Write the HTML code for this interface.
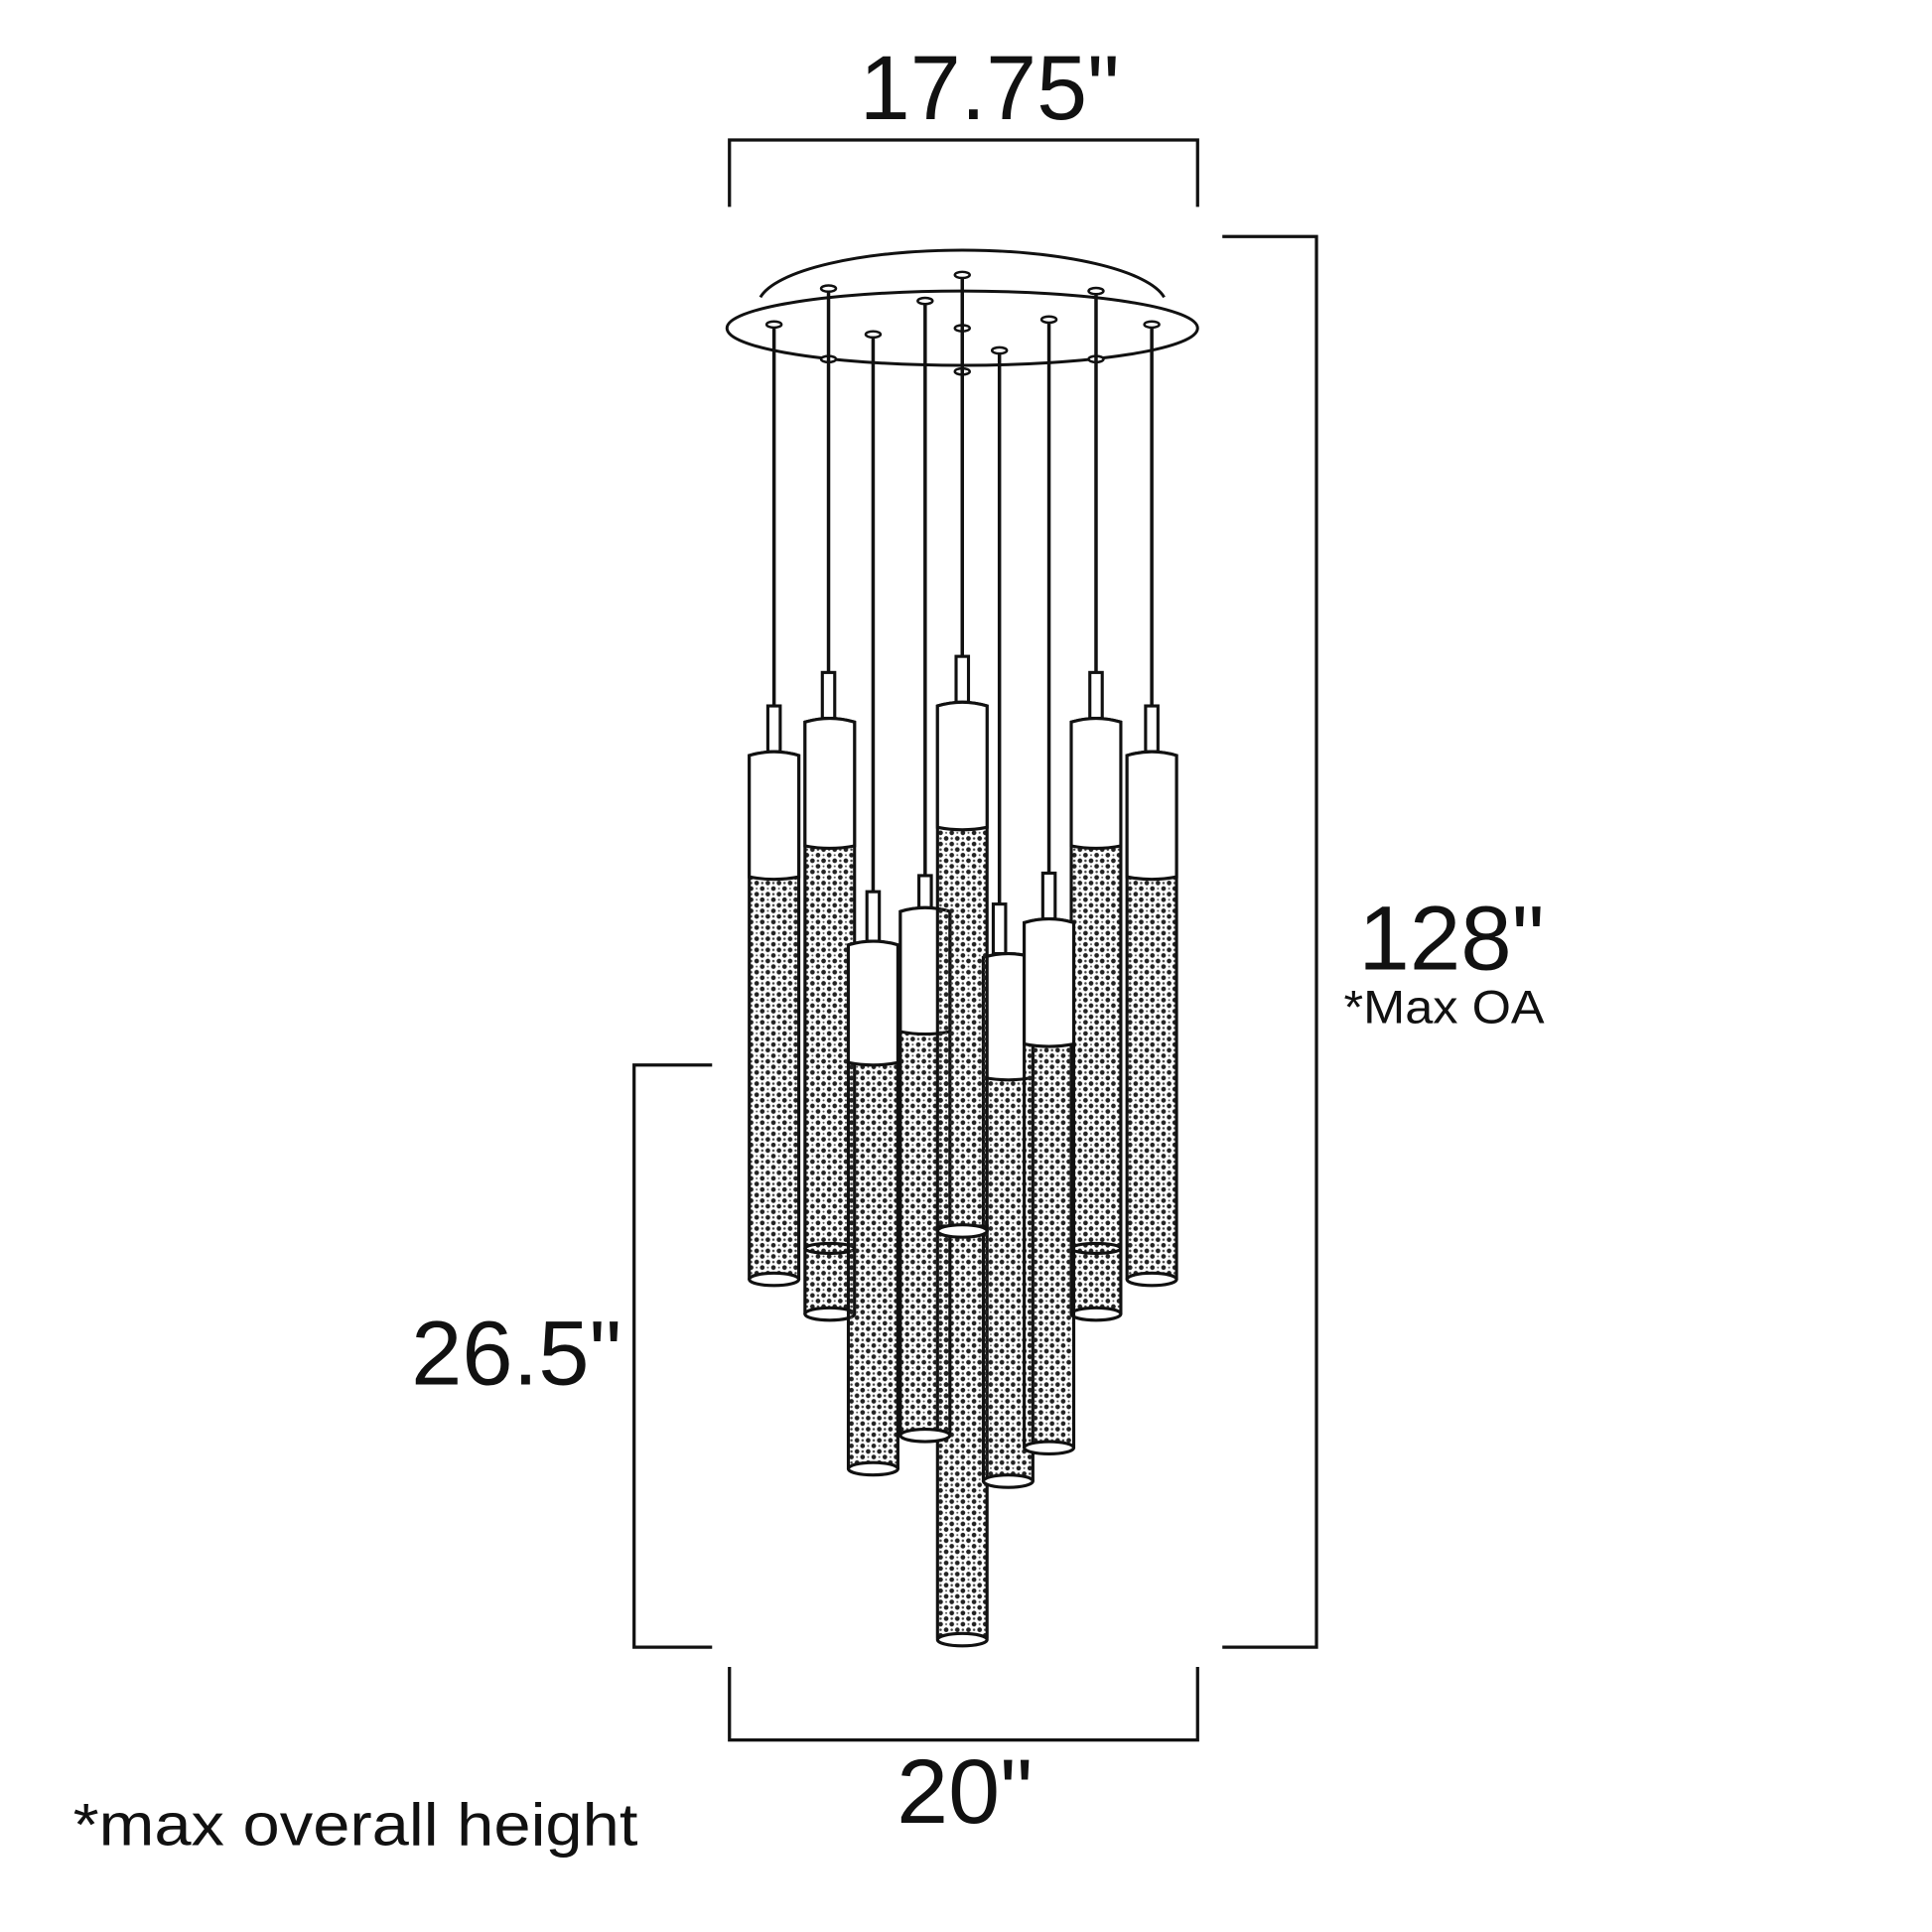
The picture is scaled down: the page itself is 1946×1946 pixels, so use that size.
<!DOCTYPE html>
<html><head><meta charset="utf-8"><style>
html,body{margin:0;padding:0;background:#fff;}
svg{display:block;}
text{font-family:"Liberation Sans",sans-serif;fill:#111;}
</style></head><body>
<svg width="1946" height="1946" viewBox="0 0 1560 1560" xmlns="http://www.w3.org/2000/svg">
<defs>
<pattern id="d" width="9" height="9" patternUnits="userSpaceOnUse">
<circle cx="2" cy="2" r="1.9" fill="#222"/>
<circle cx="6.5" cy="6.5" r="1.9" fill="#222"/>
<circle cx="6.5" cy="2" r="1" fill="#444"/>
<circle cx="2" cy="6.5" r="0.8" fill="#555"/>
</pattern>
</defs>
<g transform="translate(-3,0)">
<g stroke="#111" stroke-width="2.6" fill="none">
<path d="M592,167 V113 H970 V167"/>
<path d="M990,191 H1066 V1330 H990"/>
<path d="M578,860 H515 V1330 H578"/>
<path d="M592,1346 V1405 H970 V1346"/>
</g>
<text x="697" y="96" font-size="74" textLength="210" lengthAdjust="spacingAndGlyphs">17.75"</text>
<text x="1100" y="783" font-size="74" textLength="150" lengthAdjust="spacingAndGlyphs">128"</text>
<text x="1088" y="826" font-size="38" textLength="162" lengthAdjust="spacingAndGlyphs">*Max OA</text>
<text x="335" y="1118" font-size="74" textLength="170" lengthAdjust="spacingAndGlyphs">26.5"</text>
<text x="727" y="1472" font-size="74" textLength="110" lengthAdjust="spacingAndGlyphs">20"</text>
<text x="62" y="1490" font-size="48" textLength="456" lengthAdjust="spacingAndGlyphs">*max overall height</text>

<g stroke="#111" stroke-width="2.4" fill="#fff">
<path d="M617,240 A165,45 0 0 1 943,240" fill="none"/>
<ellipse cx="780" cy="265" rx="190" ry="30"/>
</g>
<g stroke="#111" stroke-width="2" fill="#fff">
<ellipse cx="628" cy="262" rx="6" ry="2.5"/>
<ellipse cx="672" cy="233" rx="6" ry="2.5"/>
<ellipse cx="672" cy="290" rx="6" ry="2.5"/>
<ellipse cx="708" cy="270" rx="6" ry="2.5"/>
<ellipse cx="750" cy="243" rx="6" ry="2.5"/>
<ellipse cx="780" cy="222" rx="6" ry="2.5"/>
<ellipse cx="780" cy="265" rx="6" ry="2.5"/>
<ellipse cx="780" cy="300" rx="6" ry="2.5"/>
<ellipse cx="810" cy="283" rx="6" ry="2.5"/>
<ellipse cx="850" cy="258" rx="6" ry="2.5"/>
<ellipse cx="888" cy="235" rx="6" ry="2.5"/>
<ellipse cx="888" cy="290" rx="6" ry="2.5"/>
<ellipse cx="933" cy="262" rx="6" ry="2.5"/>
</g>
<g stroke="#111" stroke-width="2.8">
<line x1="628" y1="264" x2="628" y2="570"/>
<line x1="672" y1="235" x2="672" y2="543"/>
<line x1="708" y1="272" x2="708" y2="720"/>
<line x1="750" y1="245" x2="750" y2="707"/>
<line x1="780" y1="224" x2="780" y2="530"/>
<line x1="810" y1="285" x2="810" y2="730"/>
<line x1="850" y1="260" x2="850" y2="705"/>
<line x1="888" y1="237" x2="888" y2="543"/>
<line x1="933" y1="264" x2="933" y2="570"/>
</g>

<g stroke="#111" stroke-width="2.5">
<rect x="623" y="570" width="10" height="37" fill="#fff"/>
<path d="M608,610 Q628,604 648,610 V1032 H608 Z" fill="url(#d)"/>
<path d="M608,610 Q628,604 648,610 V708 Q628,712 608,708 Z" fill="#fff"/>
<ellipse cx="628" cy="1033" rx="20" ry="5" fill="#fff"/>

<rect x="928" y="570" width="10" height="37" fill="#fff"/>
<path d="M913,610 Q933,604 953,610 V1032 H913 Z" fill="url(#d)"/>
<path d="M913,610 Q933,604 953,610 V708 Q933,712 913,708 Z" fill="#fff"/>
<ellipse cx="933" cy="1033" rx="20" ry="5" fill="#fff"/>

<rect x="667" y="543" width="10" height="37" fill="#fff"/>
<path d="M653,583 Q673,577 693,583 V1060 H653 Z" fill="url(#d)"/>
<path d="M653,583 Q673,577 693,583 V683 Q673,687 653,683 Z" fill="#fff"/>
<ellipse cx="673" cy="1061" rx="20" ry="5" fill="#fff"/>
<ellipse cx="673" cy="1008" rx="20" ry="4" fill="none"/>

<rect x="883" y="543" width="10" height="37" fill="#fff"/>
<path d="M868,583 Q888,577 908,583 V1060 H868 Z" fill="url(#d)"/>
<path d="M868,583 Q888,577 908,583 V683 Q888,687 868,683 Z" fill="#fff"/>
<ellipse cx="888" cy="1061" rx="20" ry="5" fill="#fff"/>
<ellipse cx="888" cy="1008" rx="20" ry="4" fill="none"/>

<path d="M760,990 H800 V1322 H760 Z" fill="url(#d)"/>
<ellipse cx="780" cy="1324" rx="20" ry="5" fill="#fff"/>

<rect x="745" y="707" width="10" height="26" fill="#fff"/>
<path d="M730,736 Q750,730 770,736 V1158 H730 Z" fill="url(#d)"/>
<path d="M730,736 Q750,730 770,736 V833 Q750,837 730,833 Z" fill="#fff"/>
<ellipse cx="750" cy="1159" rx="20" ry="5" fill="#fff"/>

<rect x="805" y="730" width="10" height="40" fill="#fff"/>
<path d="M797,773 Q817,767 837,773 V1195 H797 Z" fill="url(#d)"/>
<path d="M797,773 Q817,767 837,773 V870 Q817,874 797,870 Z" fill="#fff"/>
<ellipse cx="817" cy="1196" rx="20" ry="5" fill="#fff"/>

<rect x="703" y="720" width="10" height="40" fill="#fff"/>
<path d="M688,763 Q708,757 728,763 V1185 H688 Z" fill="url(#d)"/>
<path d="M688,763 Q708,757 728,763 V858 Q708,862 688,858 Z" fill="#fff"/>
<ellipse cx="708" cy="1186" rx="20" ry="5" fill="#fff"/>

<rect x="845" y="705" width="10" height="37" fill="#fff"/>
<path d="M830,745 Q850,739 870,745 V1168 H830 Z" fill="url(#d)"/>
<path d="M830,745 Q850,739 870,745 V843 Q850,847 830,843 Z" fill="#fff"/>
<ellipse cx="850" cy="1169" rx="20" ry="5" fill="#fff"/>

<rect x="775" y="530" width="10" height="37" fill="#fff"/>
<path d="M760,570 Q780,564 800,570 V993 H760 Z" fill="url(#d)"/>
<path d="M760,570 Q780,564 800,570 V668 Q780,672 760,668 Z" fill="#fff"/>
<ellipse cx="780" cy="994" rx="20" ry="5" fill="#fff"/>
</g>
</g>
</svg>
</body></html>
